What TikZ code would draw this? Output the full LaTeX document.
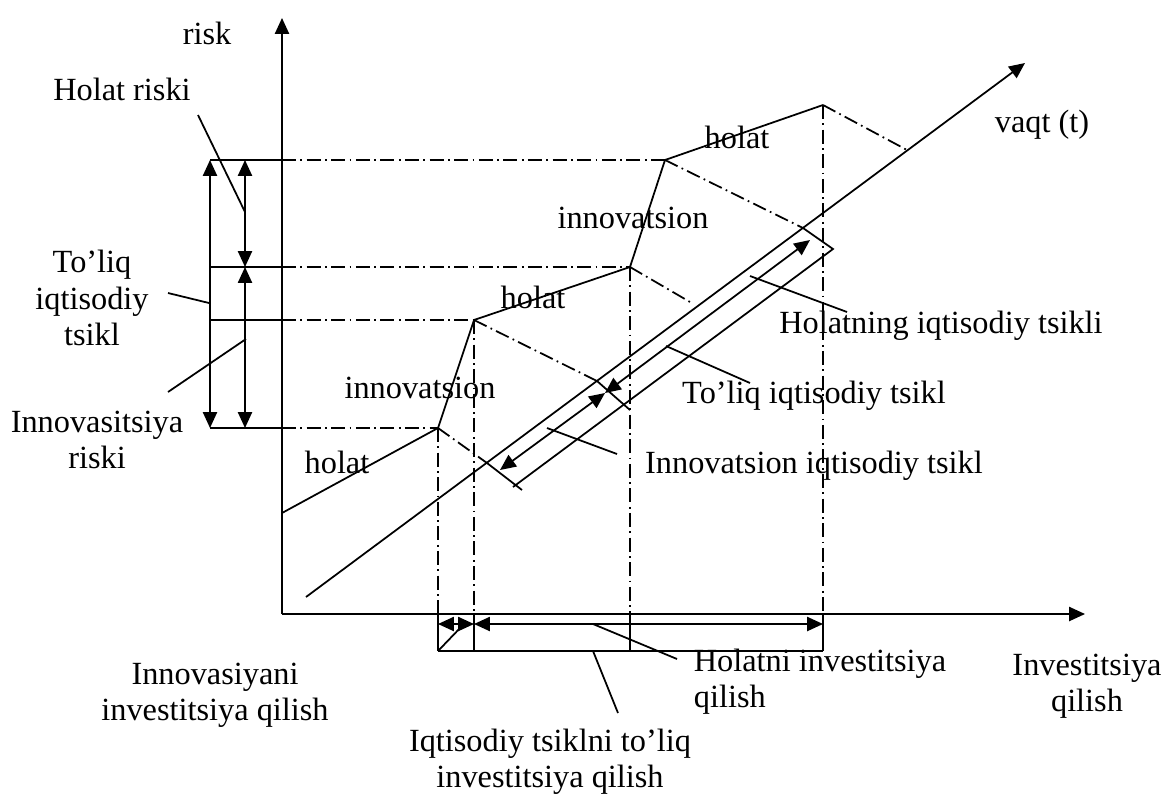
\documentclass[tikz,border=0pt]{standalone}
\usepackage{fontspec}
\setmainfont{Liberation Serif}
\usetikzlibrary{arrows.meta}

\begin{document}
\begin{tikzpicture}[x=0.02cm, y=-0.02cm, >={Triangle[length=9pt, width=8pt]},
  line width=1pt,
  lbl/.style={inner sep=0pt, align=center, font=\fontsize{18.4}{20.7}\selectfont},
  dashdot/.style={dash pattern=on 8pt off 2.5pt on 1pt off 2.5pt}]
  \useasboundingbox (0,0) rectangle (1162,795);
  % --- axes ---
  \coordinate (O) at (282,614);
  \coordinate (ytip) at (282,18);
  \coordinate (xtip) at (1085,614);
  \coordinate (t0) at (306,597);
  \coordinate (ttip) at (1025,63);
  \draw[->] (O) -- (ytip);
  \draw[->] (O) -- (xtip);
  \draw[->] (t0) -- (ttip);
  % --- risk curve ---
  \coordinate (r0) at (282,513);
  \coordinate (r1) at (438,428);
  \coordinate (r2) at (474,320);
  \coordinate (r3) at (630,267);
  \coordinate (r4) at (665,160);
  \coordinate (r5) at (823,105);
  \draw (r0) -- (r1) -- (r2) -- (r3) -- (r4) -- (r5);
  % --- risk levels (left) ---
  \coordinate (a1) at (210,428);
  \coordinate (a2) at (210,320);
  \coordinate (a3) at (210,267);
  \coordinate (a4) at (210,160);
  \foreach \i in {1,...,4} {
    \draw (a\i) -- (a\i -| O);
    \draw[dashdot] (a\i -| O) -- (r\i);
  }
  \draw[<->] (a4) -- (a1);
  \coordinate (b4) at (245,160);
  \coordinate (b3) at (245,267);
  \coordinate (b1) at (245,428);
  \draw[<->] (b4) -- (b3);
  \draw[<->] (b3) -- (b1);
  % --- investment intervals (bottom) ---
  \coordinate (bl) at (438,651);
  \coordinate (br) at (823,651);
  \foreach \i in {1,2,3,5} {
    \draw[dashdot] (r\i) -- (r\i |- O);
    \draw (r\i |- O) -- (r\i |- bl);
  }
  \draw (bl) -- (br);
  \coordinate (m1) at (438,624);
  \coordinate (m2) at (474,624);
  \coordinate (m5) at (823,624);
  \draw[<->] (m1) -- (m2);
  \draw[<->] (m2) -- (m5);
  % --- cycles along the time axis ---
  \coordinate (d1) at (487,463);
  \coordinate (e1) at (522,490);
  \coordinate (d2) at (597,381);
  \coordinate (e2) at (630,410);
  \coordinate (d3) at (690,302);
  \coordinate (d4) at (803,228);
  \coordinate (e4) at (833,249);
  \coordinate (d5) at (907,150);
  \coordinate (f1) at (513,487);
  \draw[dashdot] (r1) -- (d1);
  \draw (d1) -- (e1);
  \draw[dashdot] (r2) -- (d2);
  \draw (d2) -- (e2);
  \draw[dashdot] (r3) -- (d3);
  \draw[dashdot] (r4) -- (d4);
  \draw (d4) -- (e4) -- (f1);
  \draw[dashdot] (r5) -- (d5);
  \coordinate (c1) at (500,470);
  \coordinate (c2) at (605,393);
  \coordinate (c3) at (810,240);
  \draw[<->] (c1) -- (c2);
  \draw[<->] (c2) -- (c3);
  % --- labels ---
  \node[lbl] (lrisk) at (207,33) {risk};
  \node[lbl] (lvaqt) at (1042,125) {vaqt (t)};
  \node[lbl] (lhriski) at (122,89) {Holat riski};
  \node[lbl] (ltoliq) at (92,298) {To’liq\\iqtisodiy\\tsikl};
  \node[lbl] (liriski) at (97,440) {Innovasitsiya\\riski};
  \node[lbl] (lh1) at (337,462) {holat};
  \node[lbl] (li1) at (420,388) {innovatsion};
  \node[lbl] (lh2) at (533,297) {holat};
  \node[lbl] (li2) at (633,218) {innovatsion};
  \node[lbl] (lh3) at (737,137) {holat};
  \node[lbl] (lhcyc) at (941,326) {Holatning iqtisodiy tsikli};
  \node[lbl] (ltcyc) at (814,396) {To’liq iqtisodiy tsikl};
  \node[lbl] (licyc) at (814,466) {Innovatsion iqtisodiy tsikl};
  \node[lbl] (linv) at (215,695) {Innovasiyani\\investitsiya qilish};
  \node[lbl, anchor=west, align=left] (lhinv) at (693,682) {Holatni investitsiya\\qilish};
  \node[lbl] (ltinv) at (550,762) {Iqtisodiy tsiklni to’liq\\investitsiya qilish};
  \node[lbl] (lxax) at (1087,686) {Investitsiya\\qilish};
  % --- leaders ---
  \coordinate (k1) at (198,115);
  \coordinate (k2) at (245,212);
  \draw (k1) -- (k2);
  \coordinate (k3) at (168,293);
  \coordinate (k4) at (209,303);
  \draw (k3) -- (k4);
  \coordinate (k5) at (168,392);
  \coordinate (k6) at (246,339);
  \draw (k5) -- (k6);
  \coordinate (k7) at (750,276);
  \coordinate (k8) at (847,312);
  \draw (k7) -- (k8);
  \coordinate (k9) at (666,346);
  \coordinate (k10) at (750,383);
  \draw (k9) -- (k10);
  \coordinate (k11) at (547,428);
  \coordinate (k12) at (617,454);
  \draw (k11) -- (k12);
  \coordinate (k13) at (462,626);
  \draw (bl) -- (k13);
  \coordinate (k14) at (593,624);
  \coordinate (k15) at (677,659);
  \draw (k14) -- (k15);
  \coordinate (k16) at (593,651);
  \coordinate (k17) at (618,713);
  \draw (k16) -- (k17);
\end{tikzpicture}
\end{document}
